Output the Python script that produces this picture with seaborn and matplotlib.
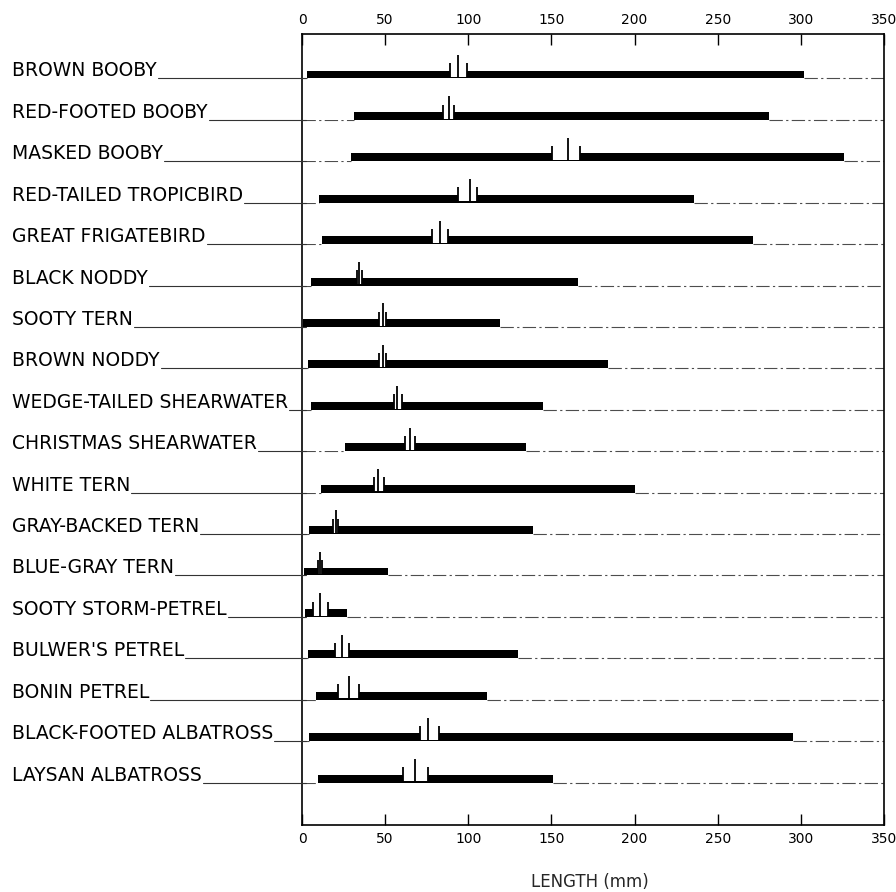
import matplotlib.pyplot as plt
import seaborn as sns
import pandas as pd
from matplotlib.lines import Line2D
from matplotlib.patches import Rectangle

# values (mm)
species = ['BROWN BOOBY', 'RED-FOOTED BOOBY', 'MASKED BOOBY', 'RED-TAILED TROPICBIRD',
           'GREAT FRIGATEBIRD', 'BLACK NODDY', 'SOOTY TERN', 'BROWN NODDY',
           'WEDGE-TAILED SHEARWATER', 'CHRISTMAS SHEARWATER', 'WHITE TERN',
           'GRAY-BACKED TERN', 'BLUE-GRAY TERN', 'SOOTY STORM-PETREL', "BULWER'S PETREL",
           'BONIN PETREL', 'BLACK-FOOTED ALBATROSS', 'LAYSAN ALBATROSS']
range_min = [3, 31, 29.5, 10, 12, 5.2, 0.6, 3.7, 5.2, 26, 11.4, 4.3, 1, 2, 3.7, 8.4, 4, 9.6]
range_max = [302, 281, 326, 236, 271, 166, 119, 184, 145, 135, 200, 139, 52, 27, 130, 111, 295, 151]
mean_len = [94, 88.5, 160, 101, 83, 34.3, 48.5, 48.5, 57, 65, 46, 20.4, 10.8, 11, 24, 28, 76, 68]
box_lo = [89, 85, 150.5, 94, 78, 33, 46.3, 46.3, 55.4, 62, 43.3, 18.4, 9.5, 6.5, 20, 21.7, 71, 61]
box_hi = [99, 91.5, 167, 105, 88, 36, 50.3, 50.5, 60, 68, 49.3, 21.7, 12, 15.6, 28, 34, 82.5, 76]
x_ticks = [0, 50, 100, 150, 200, 250, 300, 350]

sns.set_theme(style="ticks")
plt.rcParams['font.family'] = ['DejaVu Sans']

df = pd.DataFrame({'species': species, 'lo': range_min, 'hi': range_max})

W, H = 896, 892
fig = plt.figure(figsize=(W / 100, H / 100), dpi=100)
ax = fig.add_axes([302 / W, 1 - 825 / H, 582 / W, (825 - 34) / H])

bar_h = 0.19
# black bar to the max, white bar over it up to the min
sns.barplot(data=df, y='species', x='hi', color='black', width=bar_h, saturation=1,
            orient='h', errorbar=None, linewidth=0, ax=ax, zorder=2)
sns.barplot(data=df, y='species', x='lo', color='white', width=bar_h, saturation=1,
            orient='h', errorbar=None, linewidth=0, ax=ax, zorder=2)

dash = (0, (12, 3, 2, 3))
for i in range(len(species)):
    yb = i + bar_h / 2
    yt = i - bar_h / 2
    ax.hlines(yb, 0, range_min[i], color='0.3', lw=0.8, linestyle=dash, zorder=1)
    ax.hlines(yb, range_max[i], 350, color='0.3', lw=0.8, linestyle=dash, zorder=1)
    ax.add_patch(Rectangle((box_lo[i], yt), box_hi[i] - box_lo[i], bar_h - 0.03,
                           facecolor='white', edgecolor='none', zorder=3))
    ax.vlines([box_lo[i], box_hi[i]], yb, yt - 0.18, color='black', lw=1.3, zorder=4)
    ax.vlines(mean_len[i], yb, yt - 0.38, color='black', lw=1.3, zorder=4)

ax.set_xlim(0, 350)
ax.set_ylim(18.12, -0.978)
ax.set_xticks(x_ticks)
ax.set_xticklabels([str(t) for t in x_ticks])
ax.set_yticks([])
ax.set_xlabel('')
ax.set_ylabel('')
ax.tick_params(axis='x', top=True, bottom=True, labeltop=True, labelbottom=True,
               direction='in', length=8, width=1, labelsize=10, pad=5, colors='black')
for s in ax.spines.values():
    s.set_visible(True)
    s.set_linewidth(1.2)
    s.set_color('black')

# species labels with leader lines
labels = []
for i, name in enumerate(species):
    yfig = fig.transFigure.inverted().transform(ax.transData.transform((0, i + bar_h / 2)))[1]
    t = fig.text(12 / W, yfig + 2 / H, name, fontsize=13.5, ha='left', va='baseline', color='black')
    labels.append((t, yfig))

fig.canvas.draw()
renderer = fig.canvas.get_renderer()
for t, yfig in labels:
    bb = t.get_window_extent(renderer)
    x0 = (bb.x1 + 1) / W
    fig.add_artist(Line2D([x0, 306 / W], [yfig, yfig], transform=fig.transFigure,
                          color='0.2', lw=0.8))

fig.text(590 / W, 1 - 882 / H, 'LENGTH (mm)', fontsize=12, ha='center', va='center')

plt.savefig('out.png', dpi=100)
